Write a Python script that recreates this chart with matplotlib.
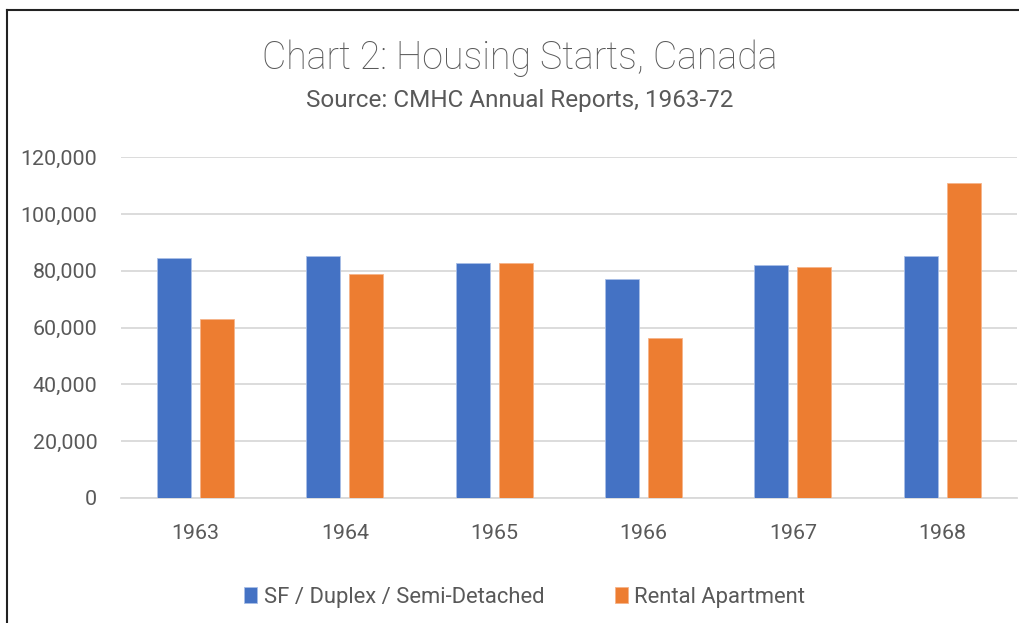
import numpy as np
import matplotlib.pyplot as plt
from matplotlib.ticker import FuncFormatter
from matplotlib.lines import Line2D

# housing starts
years = ['1963', '1964', '1965', '1966', '1967', '1968']
sf_duplex = [84600, 85300, 82800, 77200, 82100, 85400]
rental = [63000, 78900, 82800, 56400, 81300, 111100]

plt.rcParams['font.family'] = ['Roboto', 'DejaVu Sans']

blue = '#4472C4'
orange = '#ED7D31'
grey_txt = '#595959'

fig = plt.figure(figsize=(10.19, 6.23), dpi=100)
ax = fig.add_axes([0.1187, 0.2007, 0.8793, 0.5468])

x = np.arange(len(years))
w = 0.228
off = 0.144
ax.bar(x - off, sf_duplex, w, color=blue, edgecolor='#a9bfe6', linewidth=0.6,
       label='SF / Duplex / Semi-Detached', zorder=3)
ax.bar(x + off, rental, w, color=orange, edgecolor='#f5b48a', linewidth=0.6,
       label='Rental Apartment', zorder=3)

ax.set_xlim(-0.5, len(years) - 0.5)
ax.set_ylim(0, 120000)
ax.set_yticks(range(0, 120001, 20000))
ax.yaxis.set_major_formatter(FuncFormatter(lambda v, p: f'{int(v):,}'))
ax.set_xticks(x)
ax.set_xticklabels(years)
ax.grid(axis='y', color='#d9d9d9', linewidth=1.3, zorder=0)
for s in ['top', 'right', 'left']:
    ax.spines[s].set_visible(False)
ax.spines['bottom'].set_color('#d9d9d9')
ax.spines['bottom'].set_linewidth(1.3)
ax.tick_params(axis='both', length=0, labelsize=15.4, colors=grey_txt)
ax.tick_params(axis='y', pad=17)
ax.tick_params(axis='x', pad=19)

fig.text(0.51, 0.906, 'Chart 2: Housing Starts, Canada', ha='center', va='center',
         fontsize=27, color=grey_txt, fontweight='light')
fig.text(0.51, 0.838, 'Source: CMHC Annual Reports, 1963-72', ha='center', va='center',
         fontsize=17.5, color=grey_txt)

fig.legend(loc='center', bbox_to_anchor=(0.515, 0.0417), ncol=2, frameon=False,
           fontsize=15.8, labelcolor=grey_txt, handlelength=0.6, handleheight=0.7,
           handletextpad=0.3, columnspacing=3.2)

# outer frame of the chart area
fig.add_artist(Line2D([0.0069, 0.0069], [0, 0.984], transform=fig.transFigure, color='#222222', lw=1.5))
fig.add_artist(Line2D([0.0069, 1.0], [0.984, 0.984], transform=fig.transFigure, color='#222222', lw=1.5))

fig.savefig('out.png', dpi=100)
